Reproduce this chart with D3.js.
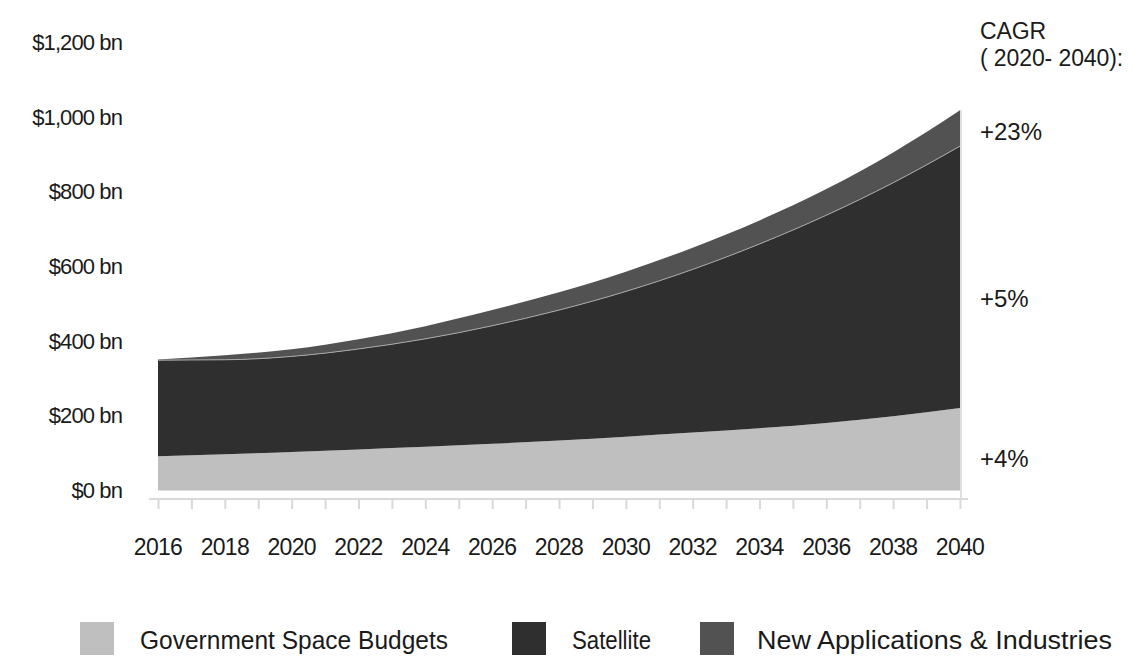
<!DOCTYPE html>
<html>
<head>
<meta charset="utf-8">
<script src="https://cdn.jsdelivr.net/npm/d3@7"></script>
<style>
  html, body { margin: 0; padding: 0; background: #fff; }
  svg { display: block; }
  text { font-family: "Liberation Sans", Arial, sans-serif; fill: #1a1a1a; }
</style>
</head>
<body>
<svg id="chart" width="1133" height="657"></svg>
<script>
// Space economy revenue by segment, $ bn
const years = [2016, 2018, 2020, 2022, 2024, 2026, 2028, 2030, 2032, 2034, 2036, 2038, 2040];
const govBudgets = [92, 97, 103, 110, 117, 125, 134, 144, 155, 167, 181, 199, 221];
const satellite = [257, 253, 256, 269, 289, 316, 349, 389, 437, 493, 556, 625, 701];
const newApps = [2, 12, 19, 26, 34, 42, 48, 53, 58, 63, 70, 81, 96];

const seriesNames = ["Government Space Budgets", "Satellite", "New Applications & Industries"];
const seriesColors = ["#bfbfbf", "#2f2f2f", "#525252"];
const yTickValues = [0, 200, 400, 600, 800, 1000, 1200];
const xLabelYears = [2016, 2018, 2020, 2022, 2024, 2026, 2028, 2030, 2032, 2034, 2036, 2038, 2040];
const cagrTitle = ["CAGR", "( 2020- 2040):"];
const cagrLabels = ["+4%", "+5%", "+23%"];
const cagrAnchors = [87, 515, 962]; // label positions on the value scale, $ bn

const svg = d3.select("#chart");

const x = d3.scaleLinear().domain([2016, 2040]).range([158, 960]);
const y = d3.scaleLinear().domain([0, 1200]).range([490.5, 42.3]);

const table = years.map((yr, i) => ({
  year: yr,
  [seriesNames[0]]: govBudgets[i],
  [seriesNames[1]]: satellite[i],
  [seriesNames[2]]: newApps[i]
}));

const layers = d3.stack().keys(seriesNames)(table);

const area = d3.area()
  .x(d => x(d.data.year))
  .y0(d => y(d[0]))
  .y1(d => y(d[1]))
  .curve(d3.curveMonotoneX);

svg.append("g")
  .selectAll("path")
  .data(layers)
  .join("path")
  .attr("d", area)
  .attr("fill", (d, i) => seriesColors[i]);

// thin light seam between satellite and new applications
const seam = d3.line()
  .x(d => x(d.data.year))
  .y(d => y(d[1]))
  .curve(d3.curveMonotoneX);
svg.append("path")
  .attr("d", seam(layers[1]))
  .attr("fill", "none")
  .attr("stroke", "#a8a8a8")
  .attr("stroke-width", 1);

// faint right edge of the area
const last = layers[2][layers[2].length - 1];
svg.append("line")
  .attr("x1", x(2040) + 1).attr("x2", x(2040) + 1)
  .attr("y1", y(last[1])).attr("y2", y(0) + 8)
  .attr("stroke", "#e0e0e0").attr("stroke-width", 2);

// x axis: light baseline with a tick every year
const xAxis = d3.axisBottom(x)
  .tickValues(d3.range(2016, 2041))
  .tickSize(10)
  .tickFormat("");
const gx = svg.append("g")
  .attr("transform", "translate(0,499)")
  .call(xAxis);
gx.select(".domain").remove();
gx.selectAll(".tick line").attr("stroke", "#d9d9d9").attr("stroke-width", 2);
gx.append("line")
  .attr("x1", 149).attr("x2", 968)
  .attr("stroke", "#d9d9d9").attr("stroke-width", 2);

svg.append("g")
  .selectAll("text")
  .data(xLabelYears)
  .join("text")
  .attr("x", d => x(d))
  .attr("y", 547)
  .attr("text-anchor", "middle")
  .attr("dominant-baseline", "central")
  .attr("font-size", 23)
  .attr("letter-spacing", -0.7)
  .text(d => d);

// y axis labels
const fmt = v => "$" + d3.format(",")(v) + " bn";
svg.append("g")
  .selectAll("text")
  .data(yTickValues)
  .join("text")
  .attr("x", 122)
  .attr("y", d => y(d))
  .attr("text-anchor", "end")
  .attr("dominant-baseline", "central")
  .attr("font-size", 22)
  .attr("letter-spacing", -0.9)
  .text(fmt);

// CAGR annotations
svg.append("g")
  .selectAll("text")
  .data(cagrTitle)
  .join("text")
  .attr("x", 980)
  .attr("y", (d, i) => 31 + i * 27)
  .attr("dominant-baseline", "central")
  .attr("font-size", 23)
  .attr("letter-spacing", -0.1)
  .text(d => d);

svg.append("g")
  .selectAll("text")
  .data(cagrLabels)
  .join("text")
  .attr("x", 980)
  .attr("y", (d, i) => y(cagrAnchors[i]))
  .attr("dominant-baseline", "central")
  .attr("font-size", 24)
  .text(d => d);

// legend
const legendX = [80, 512, 700];
const legendTextWidth = [308, 79, 355];
const legend = svg.append("g")
  .selectAll("g")
  .data(seriesNames)
  .join("g")
  .attr("transform", (d, i) => `translate(${legendX[i]},622)`);
legend.append("rect")
  .attr("width", 34).attr("height", 33)
  .attr("fill", (d, i) => seriesColors[i]);
legend.append("text")
  .attr("x", (d, i) => i === 2 ? 57 : 60)
  .attr("y", 18)
  .attr("dominant-baseline", "central")
  .attr("font-size", 25.5)
  .attr("textLength", (d, i) => legendTextWidth[i])
  .attr("lengthAdjust", "spacingAndGlyphs")
  .text(d => d);
</script>
</body>
</html>
